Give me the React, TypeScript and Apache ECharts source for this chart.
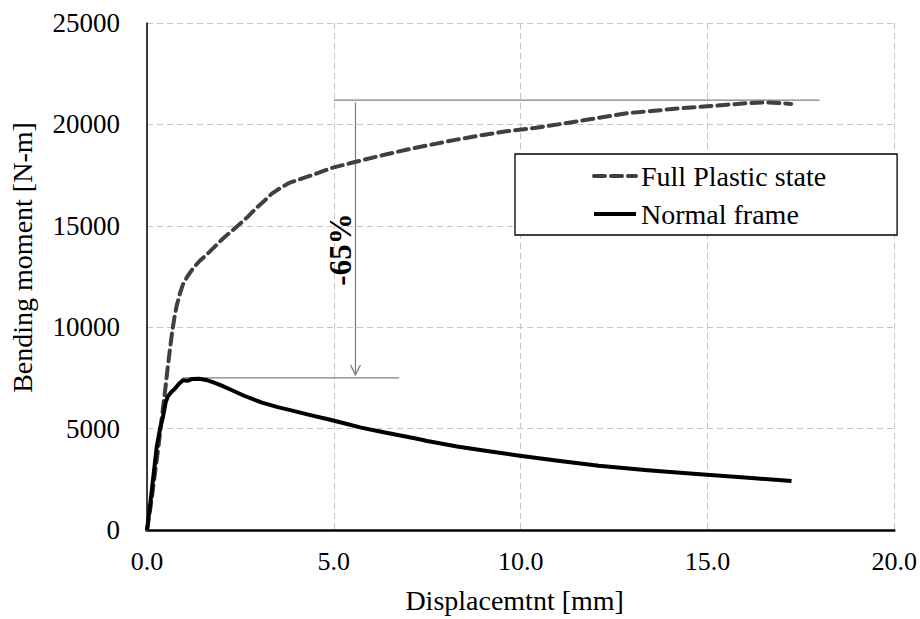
import React, { useEffect, useRef } from "react";
import * as echarts from "echarts";

// Full Plastic state curve: [displacement mm, bending moment N-m]
const fullPlasticX = [0, 0.1, 0.2, 0.3, 0.39, 0.48, 0.56, 0.62, 0.68, 0.74, 0.8, 0.88, 0.96, 1.08, 1.23, 1.4, 1.58, 1.8, 2.02, 2.24, 2.46, 2.7, 2.91, 3.15, 3.35, 3.6, 3.79, 4.1, 4.5, 4.94, 5.64, 6.3, 6.97, 7.6, 8.29, 9.0, 9.62, 10.41, 11.1, 11.81, 12.4, 12.87, 13.5, 14.2, 14.9, 15.52, 16.1, 16.58, 16.9, 17.24];
const fullPlasticY = [0, 1200, 2600, 4000, 5450, 6800, 8100, 9000, 9850, 10550, 11100, 11650, 12100, 12500, 12900, 13250, 13550, 13950, 14350, 14700, 15050, 15450, 15850, 16250, 16600, 16900, 17100, 17300, 17550, 17850, 18180, 18480, 18760, 19000, 19250, 19480, 19660, 19830, 20030, 20240, 20420, 20560, 20660, 20780, 20880, 20970, 21050, 21090, 21060, 21010];

// Normal frame curve
const normalX = [0, 0.1, 0.26, 0.35, 0.43, 0.5, 0.56, 0.65, 0.74, 0.85, 0.96, 1.1, 1.2, 1.4, 1.58, 1.76, 2.0, 2.2, 2.6, 3.08, 3.5, 3.97, 4.4, 4.85, 5.3, 5.73, 6.2, 6.61, 7.23, 7.5, 8.3, 9.1, 9.88, 11.0, 12.09, 13.4, 14.8, 16.0, 17.25];
const normalY = [0, 1500, 4100, 5000, 5600, 6300, 6600, 6800, 6950, 7200, 7380, 7360, 7450, 7460, 7400, 7290, 7120, 6950, 6620, 6280, 6060, 5850, 5650, 5460, 5250, 5050, 4870, 4720, 4500, 4390, 4120, 3900, 3690, 3410, 3170, 2950, 2750, 2590, 2420];

const seriesNames = ["Full Plastic state", "Normal frame"];
const xTicks = { min: 0, max: 20, interval: 5 };
const yTicks = { min: 0, max: 25000, interval: 5000 };

// Annotation (data coordinates)
const topRefLine = { y: 21200, x1: 5.0, x2: 18.0 };
const bottomRefLine = { y: 7500, x1: 0.95, x2: 6.75 };
const arrowLine = { x: 5.58, y1: 21080, y2: 7650 };
const annotationLabel = { text: "-65%", x: 5.19, y: 13830 };

const FONT = "Liberation Serif";

export default function App() {
  const ref = useRef<HTMLDivElement>(null);

  useEffect(() => {
    document.body.style.margin = "0";
    if (!ref.current) return;
    const chart = echarts.init(ref.current, null, { renderer: "svg" });

    const full = fullPlasticX.map((x, i) => [x, fullPlasticY[i]]);
    const normal = normalX.map((x, i) => [x, normalY[i]]);

    const annColor = "#808080";

    chart.setOption({
      animation: false,
      backgroundColor: "#ffffff",
      grid: { left: 147, right: 18, top: 23, bottom: 88, containLabel: false },
      xAxis: {
        type: "value",
        min: xTicks.min,
        max: xTicks.max,
        interval: xTicks.interval,
        name: "Displacemtnt [mm]",
        nameLocation: "middle",
        nameGap: 56,
        nameTextStyle: { fontFamily: FONT, fontSize: 28, color: "#000", padding: [0, 12, 0, 0] },
        axisLine: { show: true, lineStyle: { color: "#000", width: 2.5 } },
        axisTick: { show: false },
        axisLabel: {
          fontFamily: FONT,
          fontSize: 26,
          color: "#000",
          margin: 18,
          formatter: (v: number) => v.toFixed(1),
        },
        splitLine: { show: true, lineStyle: { color: "#c4c4c4", type: [6, 4], width: 1 } },
      },
      yAxis: {
        type: "value",
        min: yTicks.min,
        max: yTicks.max,
        interval: yTicks.interval,
        name: "Bending moment [N-m]",
        nameLocation: "middle",
        nameGap: 111,
        nameTextStyle: { fontFamily: FONT, fontSize: 28, color: "#000", padding: [0, 0, 0, 38] },
        axisLine: { show: true, lineStyle: { color: "#000", width: 1.5 } },
        axisTick: { show: false },
        axisLabel: {
          fontFamily: FONT,
          fontSize: 27,
          color: "#000",
          margin: 27,
          formatter: (v: number) => String(v),
        },
        splitLine: { show: true, lineStyle: { color: "#c4c4c4", type: [6, 4], width: 1 } },
      },
      legend: {
        data: seriesNames,
        orient: "vertical",
        left: 515,
        top: 154,
        padding: [8, 71, 7, 77],
        itemGap: 10,
        itemWidth: 42,
        itemHeight: 28,
        backgroundColor: "#ffffff",
        borderColor: "#000",
        borderWidth: 1.3,
        borderRadius: 0,
        lineStyle: { width: 4 },
        itemStyle: { color: "rgba(0,0,0,0)", borderColor: "rgba(0,0,0,0)", borderWidth: 0, opacity: 0 },
        textStyle: { fontFamily: FONT, fontSize: 28, color: "#000", lineHeight: 28 },
        selectedMode: false,
      },
      series: [
        {
          type: "custom",
          name: "annotation",
          coordinateSystem: "cartesian2d",
          silent: true,
          clip: false,
          z: 1,
          data: [[0, 0]],
          renderItem: (_params: any, api: any) => {
            const t1 = api.coord([topRefLine.x1, topRefLine.y]);
            const t2 = api.coord([topRefLine.x2, topRefLine.y]);
            const b1 = api.coord([bottomRefLine.x1, bottomRefLine.y]);
            const b2 = api.coord([bottomRefLine.x2, bottomRefLine.y]);
            const a1 = api.coord([arrowLine.x, arrowLine.y1]);
            const a2 = api.coord([arrowLine.x, arrowLine.y2]);
            const lbl = api.coord([annotationLabel.x, annotationLabel.y]);
            const ls = { stroke: annColor, lineWidth: 1.3, fill: null };
            return {
              type: "group",
              children: [
                { type: "line", shape: { x1: t1[0], y1: t1[1], x2: t2[0], y2: t2[1] }, style: ls },
                { type: "line", shape: { x1: b1[0], y1: b1[1], x2: b2[0], y2: b2[1] }, style: ls },
                { type: "line", shape: { x1: a1[0], y1: a1[1], x2: a2[0], y2: a2[1] }, style: ls },
                {
                  type: "polyline",
                  shape: {
                    points: [
                      [a2[0] - 5, a2[1] - 10],
                      [a2[0], a2[1]],
                      [a2[0] + 5, a2[1] - 10],
                    ],
                  },
                  style: ls,
                },
                {
                  type: "text",
                  x: lbl[0],
                  y: lbl[1],
                  rotation: Math.PI / 2,
                  style: {
                    text: annotationLabel.text,
                    fontFamily: FONT,
                    fontSize: 31,
                    fontWeight: "bold",
                    fill: "#000",
                    align: "center",
                    verticalAlign: "middle",
                  },
                },
              ],
            };
          },
        },
        {
          type: "line",
          name: seriesNames[0],
          data: full,
          showSymbol: false,
          symbol: "none",
          smooth: false,
          z: 3,
          lineStyle: { color: "#404040", width: 4, type: [11, 6], cap: "round", join: "round" },
          itemStyle: { color: "#404040" },
        },
        {
          type: "line",
          name: seriesNames[1],
          data: normal,
          showSymbol: false,
          symbol: "none",
          smooth: false,
          z: 4,
          lineStyle: { color: "#000000", width: 4, type: "solid", join: "round" },
          itemStyle: { color: "#000000" },
        },
      ],
    });

    return () => chart.dispose();
  }, []);

  return <div ref={ref} style={{ width: 920, height: 619 }} />;
}
